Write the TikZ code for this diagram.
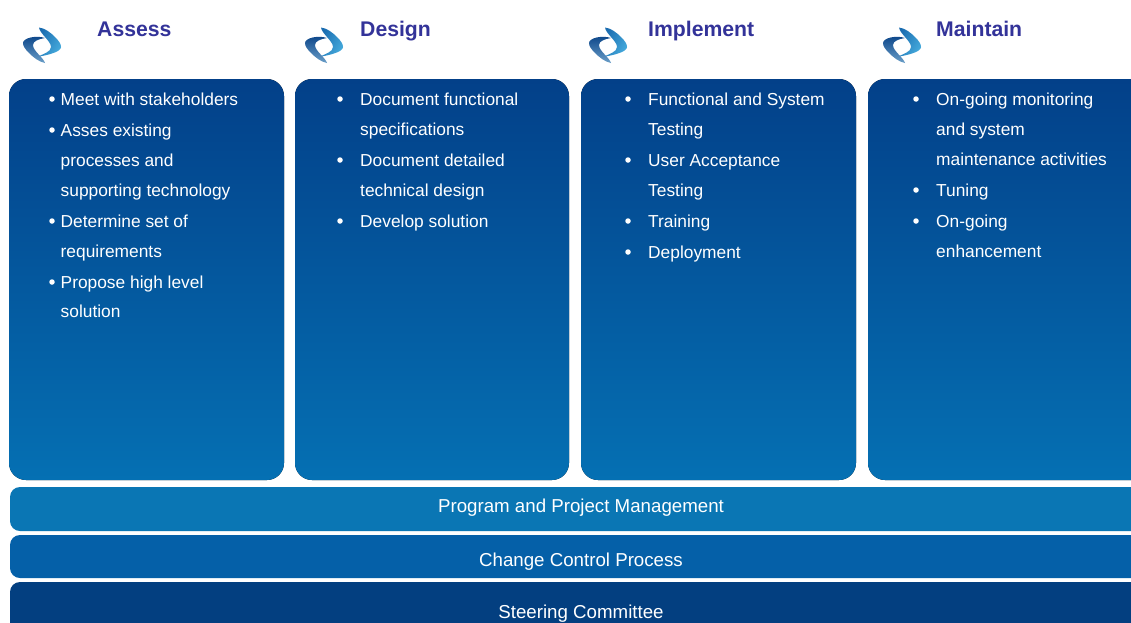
\documentclass[tikz,border=0pt]{standalone}
\usepackage{fontspec}
\setmainfont{Liberation Sans}
\definecolor{topblue}{HTML}{034089}
\definecolor{botblue}{HTML}{0570B3}
\definecolor{barA}{HTML}{0A76B4}
\definecolor{barB}{HTML}{0560A8}
\definecolor{barC}{HTML}{033F80}
\definecolor{headc}{HTML}{333399}
\definecolor{logoA}{HTML}{0A4488}
\definecolor{logoAb}{HTML}{6A9EC8}
\definecolor{logoB}{HTML}{1A6CB0}
\definecolor{logoBb}{HTML}{45AADC}
\tikzset{
  x=1pt,y=-1pt,
  column/.style={fill,rounded corners=17pt,top color=topblue,bottom color=botblue,draw=none},
  barshape/.style={rounded corners=10pt,draw=none},
  head/.style={anchor=base west,font=\fontsize{21.2}{24}\selectfont\bfseries,text=headc,inner sep=0pt},
  item/.style={anchor=base west,font=\fontsize{17.35}{20}\selectfont,text=white,inner sep=0pt},
  bartext/.style={anchor=base,font=\fontsize{18.7}{20}\selectfont,text=white,inner sep=0pt},
  dotmark/.style={circle,fill=white,inner sep=0pt,minimum size=5.5pt},
}
\newcommand{\logomark}[2]{%
  \begin{scope}[shift={(#1,#2)}]
    \shade[left color=logoB,right color=logoBb,shading angle=60]
      (-3,-17.5) .. controls (3,-17) and (9,-12) .. (13,-8)
      .. controls (17,-4) and (19,-1) .. (19,2)
      .. controls (19,7) and (6,10) .. (-5,12)
      .. controls (1,9) and (9,7) .. (9,2)
      .. controls (9,-4) and (-2,-11) .. (-3,-17.5) -- cycle;
    \shade[top color=logoA,bottom color=logoAb]
      (3,-7) .. controls (-3,-6) and (-9,-4) .. (-9,0)
      .. controls (-9,6) and (1,12) .. (3,18)
      .. controls (-3,17) and (-9,12) .. (-13,8)
      .. controls (-17,4) and (-19,1) .. (-19,-2)
      .. controls (-19,-7) and (-6,-10) .. (3,-7) -- cycle;
  \end{scope}}
\begin{document}
\begin{tikzpicture}
\useasboundingbox (0,0) rectangle (1131,622);
\fill[white] (0,0) rectangle (1131,622);

% columns
\path[column] (9,79) rectangle (284,480);
\path[column] (295,79) rectangle (569,480);
\path[column] (581,79) rectangle (856,480);
\begin{scope}
  \clip (860,70) rectangle (1131,490);
  \path[column] (868,79) rectangle (1160,480);
\end{scope}

% bars
\begin{scope}
\clip (0,480) rectangle (1131,622);
\fill[barA,barshape] (10,487) rectangle (1160,531);
\fill[barB,barshape] (10,535) rectangle (1160,578);
\fill[barC,barshape] (10,582) rectangle (1160,650);
\end{scope}
\node[bartext] (pm) at (581,512) {Program and Project Management};
\node[bartext] (cc) at (581,566) {Change Control Process};
\node[bartext] (sc) at (581,618) {Steering Committee};

% logos
\logomark{42}{45}
\logomark{324}{45}
\logomark{608}{45}
\logomark{902}{45}

% headings
\node[head] (h1) at (97,36) {Assess};
\node[head] (h2) at (360,36) {Design};
\node[head] (h3) at (648,36) {Implement};
\node[head] (h4) at (936,36) {Maintain};

% Assess
\node[dotmark] (a1d) at (52,99) {};
\node[item] (a1) at (60.5,105) {Meet with stakeholders};
\node[dotmark] (a2d) at (52,130) {};
\node[item] (a2) at (60.5,136) {Asses existing};
\node[item] (a3) at (60.5,166) {processes and};
\node[item] (a4) at (60.5,196) {supporting technology};
\node[dotmark] (a5d) at (52,221) {};
\node[item] (a5) at (60.5,227) {Determine set of};
\node[item] (a6) at (60.5,257) {requirements};
\node[dotmark] (a7d) at (52,282) {};
\node[item] (a7) at (60.5,288) {Propose high level};
\node[item] (a8) at (60.5,317) {solution};

% Design
\node[dotmark] (d1d) at (340,99) {};
\node[item] (d1) at (360,105) {Document functional};
\node[item] (d2) at (360,135) {specifications};
\node[dotmark] (d3d) at (340,160) {};
\node[item] (d3) at (360,166) {Document detailed};
\node[item] (d4) at (360,196) {technical design};
\node[dotmark] (d5d) at (340,221) {};
\node[item] (d5) at (360,227) {Develop solution};

% Implement
\node[dotmark] (i1d) at (628,99) {};
\node[item] (i1) at (648,105) {Functional and System};
\node[item] (i2) at (648,135) {Testing};
\node[dotmark] (i3d) at (628,160) {};
\node[item] (i3) at (648,166) {User Acceptance};
\node[item] (i4) at (648,196) {Testing};
\node[dotmark] (i5d) at (628,221) {};
\node[item] (i5) at (648,227) {Training};
\node[dotmark] (i6d) at (628,252) {};
\node[item] (i6) at (648,258) {Deployment};

% Maintain
\node[dotmark] (m1d) at (916,99) {};
\node[item] (m1) at (936,105) {On-going monitoring};
\node[item] (m2) at (936,135) {and system};
\node[item] (m3) at (936,165) {maintenance activities};
\node[dotmark] (m4d) at (916,190) {};
\node[item] (m4) at (936,196) {Tuning};
\node[dotmark] (m5d) at (916,221) {};
\node[item] (m5) at (936,227) {On-going};
\node[item] (m6) at (936,257) {enhancement};
\end{tikzpicture}
\end{document}
